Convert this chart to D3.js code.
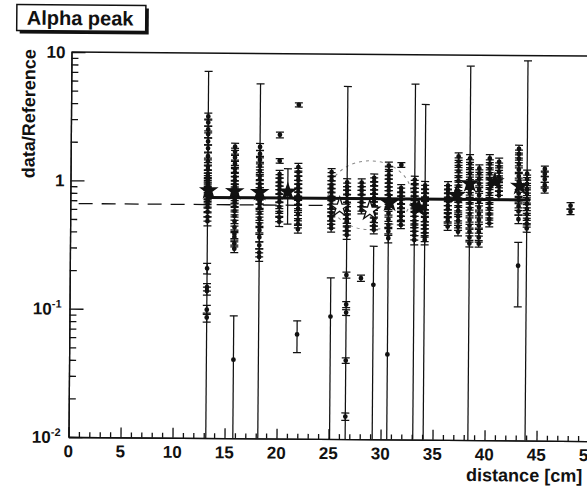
<!DOCTYPE html>
<html>
<head>
<meta charset="utf-8">
<title>Alpha peak</title>
<script src="https://cdnjs.cloudflare.com/ajax/libs/d3/7.8.5/d3.min.js"></script>
<style>
  html, body { margin: 0; padding: 0; background: #fff; }
  svg { display: block; }
  text { font-family: "Liberation Sans", Arial, Helvetica, sans-serif; font-weight: bold; fill: #111; }
</style>
</head>
<body>
<div id="chart"></div>
<script>
"use strict";

// ---- values ----
var title = "Alpha peak";
var xLabel = "distance [cm]";
var yLabel = "data/Reference";

var xTickValues = [0, 5, 10, 15, 20, 25, 30, 35, 40, 45, 50];
var yTickValues = [0.01, 0.1, 1, 10];
var yTickBase = ["10", "10", "1", "10"];
var yTickExp = ["-2", "-1", "", ""];

// one column of points per distance
var clusterX = [13.2, 15.8, 18.2, 20.1, 20.9, 21.9, 25.1, 26.6, 28.0, 29.2, 30.6, 31.8,
  33.1, 34.1, 36.3, 37.3, 38.4, 39.3, 40.3, 41.2, 43.1, 43.9, 45.6, 48.1];

var clusterY = [
  [3.21, 2.88, 2.54, 2.33, 2.05, 1.81, 1.57, 1.43, 1.31, 1.24, 1.15, 1.09, 1.04, 0.98, 0.93, 0.88, 0.84, 0.79, 0.75, 0.71, 0.67, 0.63, 0.58, 0.53, 0.49, 0.21, 0.15, 0.14, 0.10, 0.087, 0.80],
  [1.87, 1.71, 1.54, 1.38, 1.26, 1.18, 1.09, 1.02, 0.95, 0.90, 0.85, 0.81, 0.76, 0.72, 0.69, 0.64, 0.59, 0.54, 0.49, 0.44, 0.39, 0.37, 0.33, 0.30, 0.041],
  [1.87, 1.65, 1.48, 1.33, 1.22, 1.11, 1.04, 0.96, 0.90, 0.84, 0.78, 0.72, 0.67, 0.63, 0.57, 0.52, 0.47, 0.42, 0.37, 0.32, 0.28, 0.26, 0.70],
  [2.33, 1.46, 1.15, 1.07, 1.0, 0.93, 0.87, 0.81, 0.75, 0.70, 0.64, 0.58, 0.53, 0.49],
  [0.87],
  [4.0, 1.31, 1.20, 1.11, 1.04, 0.96, 0.90, 0.84, 0.78, 0.72, 0.67, 0.62, 0.56, 0.51, 0.47, 0.43, 0.065],
  [1.20, 1.11, 1.04, 0.96, 0.90, 0.84, 0.78, 0.72, 0.67, 0.63, 0.58, 0.54, 0.51, 0.47, 0.44, 0.09],
  [1.0, 0.93, 0.87, 0.81, 0.75, 0.70, 0.65, 0.61, 0.56, 0.52, 0.49, 0.45, 0.42, 0.39, 0.19, 0.112, 0.097, 0.041, 0.015, 0.50],
  [1.0, 0.93, 0.87, 0.81, 0.75, 0.70, 0.65, 0.61, 0.18],
  [1.09, 1.02, 0.95, 0.88, 0.82, 0.76, 0.71, 0.66, 0.62, 0.57, 0.53, 0.50, 0.46, 0.43, 0.16],
  [1.36, 1.24, 1.15, 1.07, 1.0, 0.93, 0.87, 0.81, 0.75, 0.70, 0.64, 0.58, 0.52, 0.47, 0.42, 0.37, 0.046],
  [1.38, 0.91, 0.85, 0.79, 0.74, 0.69, 0.64, 0.59, 0.55, 0.51, 0.47],
  [1.06, 0.98, 0.91, 0.85, 0.79, 0.74, 0.69, 0.64, 0.59, 0.55, 0.51, 0.48, 0.45, 0.42, 0.39, 0.36, 0.60],
  [0.96, 0.90, 0.84, 0.78, 0.72, 0.67, 0.63, 0.58, 0.54, 0.51, 0.47, 0.44, 0.41, 0.38, 0.36, 0.70],
  [0.96, 0.90, 0.84, 0.78, 0.72, 0.67, 0.63, 0.58, 0.54, 0.51, 0.46],
  [1.62, 1.48, 1.36, 1.24, 1.13, 1.04, 0.95, 0.87, 0.79, 0.72, 0.66, 0.61, 0.55, 0.51, 0.46, 0.42],
  [1.57, 1.43, 1.31, 1.20, 1.09, 1.0, 0.91, 0.84, 0.76, 0.70, 0.64, 0.58, 0.52, 0.47, 0.42, 0.38, 0.34, 0.90],
  [1.31, 1.20, 1.09, 1.0, 0.90, 0.81, 0.72, 0.65, 0.58, 0.52, 0.47, 0.42, 0.38, 0.34],
  [1.57, 1.43, 1.31, 1.20, 1.09, 1.0, 0.91, 0.84, 0.76, 0.70, 0.64, 0.58, 0.53, 0.49],
  [1.48, 1.36, 1.24, 1.13, 1.04, 0.95, 0.87, 0.81],
  [1.87, 1.71, 1.57, 1.43, 1.29, 1.15, 1.04, 0.93, 0.84, 0.75, 0.67, 0.61, 0.53, 0.23],
  [1.20, 1.09, 1.0, 0.91, 0.84, 0.76, 0.70, 0.64, 0.58, 0.53, 0.49, 0.45, 0.90],
  [1.31, 1.20, 1.09, 0.98, 0.90],
  [0.68, 0.61]
];

var clusterErr = [
  [0.20, 0.18, 0.15, 0.14, 0.13, 0.12, 0.10, 0.09, 0.09, 0.08, 0.08, 0.07, 0.07, 0.07, 0.06, 0.06, 0.06, 0.06, 0.05, 0.05, 0.05, 0.05, 0.05, 0.04, 0.04, 0.02, 0.01, 0.01, 0.008, 0.007, 6.4],
  [0.12, 0.11, 0.10, 0.09, 0.08, 0.08, 0.07, 0.07, 0.06, 0.06, 0.06, 0.05, 0.05, 0.05, 0.05, 0.04, 0.04, 0.04, 0.04, 0.03, 0.03, 0.03, 0.02, 0.02, 0.049],
  [0.12, 0.11, 0.10, 0.09, 0.08, 0.07, 0.07, 0.06, 0.06, 0.06, 0.05, 0.05, 0.05, 0.04, 0.04, 0.04, 0.03, 0.03, 0.03, 0.02, 0.02, 0.02, 5.1],
  [0.12, 0.06, 0.08, 0.07, 0.07, 0.06, 0.06, 0.06, 0.05, 0.05, 0.05, 0.04, 0.04, 0.04],
  [0.40],
  [0.15, 0.09, 0.08, 0.08, 0.07, 0.07, 0.06, 0.06, 0.05, 0.05, 0.05, 0.04, 0.04, 0.04, 0.03, 0.03, 0.018],
  [0.08, 0.08, 0.07, 0.07, 0.06, 0.06, 0.05, 0.05, 0.05, 0.04, 0.04, 0.04, 0.04, 0.03, 0.03, 0.09],
  [0.07, 0.06, 0.06, 0.06, 0.05, 0.05, 0.05, 0.04, 0.04, 0.04, 0.03, 0.03, 0.03, 0.03, 0.01, 0.006, 0.005, 0.002, 0.001, 5.1],
  [0.07, 0.06, 0.06, 0.06, 0.05, 0.05, 0.05, 0.04, 0.01],
  [0.08, 0.07, 0.07, 0.06, 0.06, 0.05, 0.05, 0.05, 0.04, 0.04, 0.04, 0.04, 0.03, 0.03, 0.16],
  [0.09, 0.09, 0.08, 0.07, 0.07, 0.06, 0.06, 0.06, 0.05, 0.05, 0.04, 0.04, 0.04, 0.03, 0.03, 0.03, 1.3],
  [0.06, 0.06, 0.06, 0.05, 0.05, 0.05, 0.04, 0.04, 0.04, 0.04, 0.03],
  [0.07, 0.07, 0.06, 0.06, 0.06, 0.05, 0.05, 0.04, 0.04, 0.04, 0.04, 0.03, 0.03, 0.03, 0.03, 0.03, 5.3],
  [0.07, 0.06, 0.06, 0.05, 0.05, 0.05, 0.04, 0.04, 0.04, 0.04, 0.03, 0.03, 0.03, 0.03, 0.03, 3.4],
  [0.07, 0.06, 0.06, 0.05, 0.05, 0.05, 0.04, 0.04, 0.04, 0.04, 0.03],
  [0.11, 0.10, 0.09, 0.09, 0.08, 0.07, 0.07, 0.06, 0.06, 0.05, 0.05, 0.04, 0.04, 0.04, 0.03, 0.03],
  [0.11, 0.10, 0.09, 0.08, 0.08, 0.07, 0.06, 0.06, 0.05, 0.05, 0.05, 0.04, 0.04, 0.03, 0.03, 0.03, 0.02, 7.3],
  [0.09, 0.08, 0.08, 0.07, 0.06, 0.06, 0.05, 0.05, 0.04, 0.04, 0.03, 0.03, 0.03, 0.02],
  [0.11, 0.10, 0.09, 0.08, 0.08, 0.07, 0.06, 0.06, 0.05, 0.05, 0.05, 0.04, 0.04, 0.03],
  [0.10, 0.09, 0.09, 0.08, 0.07, 0.07, 0.06, 0.06],
  [0.13, 0.12, 0.11, 0.10, 0.09, 0.08, 0.07, 0.07, 0.06, 0.05, 0.05, 0.04, 0.04, 0.12],
  [0.08, 0.08, 0.07, 0.06, 0.06, 0.05, 0.05, 0.05, 0.04, 0.04, 0.03, 0.03, 8.2],
  [0.07, 0.06, 0.06, 0.05, 0.05],
  [0.04, 0.03]
];

// averages per distance (filled and open stars)
var starX = [13.3, 15.8, 18.2, 20.9, 30.7, 33.5, 37.1, 38.4, 40.8, 43.2];
var starY = [0.85, 0.84, 0.83, 0.84, 0.70, 0.64, 0.81, 1.0, 1.04, 0.96];
var openX = [25.9, 28.8];
var openY = [0.64, 0.61];

// fitted level, reference level and the hand-drawn ellipse
var fitX = [13.2, 44.2];
var fitY = 0.75;
var refX = [0.8, 25.5];
var refY = 0.66;
var ellipseX = [24.8, 32.8];
var ellipseY = [0.43, 1.48];

var AlphaPlot = (function () {

  var width = 587;
  var height = 487;

  function drawAxes(g, x, y) {
    // minor ticks, generated per decade / per unit
    var yMinor = [];
    [0.01, 0.1, 1].forEach(function (d) {
      for (var k = 2; k < 10; k++) yMinor.push(d * k);
    });
    var xMinor = d3.range(0, 51).filter(function (d) { return d % 5 !== 0; });

    g.append("g")
      .attr("class", "y axis")
      .attr("transform", "translate(" + x.range()[0] + ",0)")
      .call(d3.axisRight(y).tickValues(yMinor).tickSize(7).tickSizeOuter(0).tickFormat(""));
    g.append("g")
      .attr("class", "y axis")
      .attr("transform", "translate(" + x.range()[0] + ",0)")
      .call(d3.axisRight(y).tickValues(yTickValues).tickSize(14).tickSizeOuter(0).tickFormat(""));

    g.append("g")
      .attr("class", "x axis")
      .attr("transform", "translate(0," + y.range()[0] + ")")
      .call(d3.axisTop(x).tickValues(xMinor).tickSize(5).tickSizeOuter(0).tickFormat(""));
    g.append("g")
      .attr("class", "x axis")
      .attr("transform", "translate(0," + y.range()[0] + ")")
      .call(d3.axisTop(x).tickValues(xTickValues).tickSize(10).tickSizeOuter(0).tickFormat(""));

    g.selectAll(".axis path, .axis line")
      .attr("stroke", "#111")
      .attr("stroke-width", 1.3);

    // frame top line
    g.append("line")
      .attr("x1", x.range()[0]).attr("x2", x.range()[1])
      .attr("y1", y.range()[1]).attr("y2", y.range()[1])
      .attr("stroke", "#111").attr("stroke-width", 1.5);

    // tick labels
    g.selectAll(".xlab")
      .data(xTickValues)
      .enter()
      .append("text")
      .attr("class", "xlab")
      .attr("x", function (d) { return x(d); })
      .attr("y", y.range()[0] + 20)
      .attr("text-anchor", "middle")
      .style("font-size", "17px")
      .text(function (d) { return d; });

    var ylab = g.selectAll(".ylab")
      .data(yTickValues)
      .enter()
      .append("text")
      .attr("class", "ylab")
      .attr("x", function (d, i) { return yTickExp[i] ? 62 : 64; })
      .attr("y", function (d) { return y(d) + 6; })
      .attr("text-anchor", "end")
      .style("font-size", "17px");
    ylab.append("tspan").text(function (d, i) { return yTickBase[i]; });
    ylab.append("tspan")
      .attr("dy", -7)
      .style("font-size", "11px")
      .text(function (d, i) { return yTickExp[i]; });

    // axis titles
    g.append("text")
      .attr("transform", "translate(34,114) rotate(-90)")
      .attr("text-anchor", "middle")
      .style("font-size", "18px")
      .text(yLabel);
    g.append("text")
      .attr("x", 584)
      .attr("y", 478)
      .attr("text-anchor", "end")
      .style("font-size", "18px")
      .text(xLabel);
  }

  function drawTitle(g) {
    var bx = 15, by = 5, bw = 129, bh = 26;
    g.append("rect")
      .attr("x", bx + 3).attr("y", by + 3)
      .attr("width", bw).attr("height", bh)
      .attr("fill", "#111");
    g.append("rect")
      .attr("x", bx).attr("y", by)
      .attr("width", bw).attr("height", bh)
      .attr("fill", "#fff")
      .attr("stroke", "#111")
      .attr("stroke-width", 1.5);
    g.append("text")
      .attr("x", bx + 10)
      .attr("y", by + 20)
      .style("font-size", "20px")
      .text(title);
  }

  function drawPoints(g, x, y) {
    var yMin = y.domain()[0];
    var yMax = y.domain()[1];
    var cap = 4;
    var points = [];
    for (var i = 0; i < clusterX.length; i++) {
      for (var j = 0; j < clusterY[i].length; j++) {
        points.push({ x: clusterX[i], y: clusterY[i][j], e: clusterErr[i][j] });
      }
    }

    var bar = g.selectAll(".bar")
      .data(points)
      .enter()
      .append("g")
      .attr("class", "bar")
      .attr("stroke", "#111")
      .attr("stroke-width", 1.25);

    bar.each(function (d) {
      var node = d3.select(this);
      var px = x(d.x);
      var hi = Math.min(d.y + d.e, yMax);
      var lo = d.y - d.e;
      var loClipped = lo <= yMin;
      if (loClipped) lo = yMin;
      node.append("line")
        .attr("x1", px).attr("x2", px)
        .attr("y1", y(hi)).attr("y2", y(lo));
      node.append("line")
        .attr("x1", px - cap).attr("x2", px + cap)
        .attr("y1", y(hi)).attr("y2", y(hi));
      if (!loClipped) {
        node.append("line")
          .attr("x1", px - cap).attr("x2", px + cap)
          .attr("y1", y(lo)).attr("y2", y(lo));
      }
      if (d.y >= yMin) {
        node.append("circle")
          .attr("cx", px).attr("cy", y(d.y))
          .attr("r", 2.4)
          .attr("fill", "#111")
          .attr("stroke", "none");
      }
    });
  }

  function drawLines(g, x, y) {
    g.append("line")
      .attr("x1", x(refX[0])).attr("x2", x(refX[1]))
      .attr("y1", y(refY)).attr("y2", y(refY))
      .attr("stroke", "#111")
      .attr("stroke-width", 1.3)
      .attr("stroke-dasharray", "14,9");

    g.append("ellipse")
      .attr("cx", (x(ellipseX[0]) + x(ellipseX[1])) / 2)
      .attr("cy", (y(ellipseY[0]) + y(ellipseY[1])) / 2)
      .attr("rx", (x(ellipseX[1]) - x(ellipseX[0])) / 2)
      .attr("ry", (y(ellipseY[0]) - y(ellipseY[1])) / 2)
      .attr("fill", "none")
      .attr("stroke", "#888")
      .attr("stroke-width", 1)
      .attr("stroke-dasharray", "3,4");
  }

  function drawFit(g, x, y) {
    g.append("line")
      .attr("x1", x(fitX[0])).attr("x2", x(fitX[1]))
      .attr("y1", y(fitY)).attr("y2", y(fitY))
      .attr("stroke", "#111")
      .attr("stroke-width", 3);

    var star = d3.symbol().type(d3.symbolStar).size(120);
    g.selectAll(".star")
      .data(starX)
      .enter()
      .append("path")
      .attr("class", "star")
      .attr("d", star)
      .attr("transform", function (d, i) { return "translate(" + x(d) + "," + y(starY[i]) + ")"; })
      .attr("fill", "#111");

    g.selectAll(".open-star")
      .data(openX)
      .enter()
      .append("path")
      .attr("class", "open-star")
      .attr("d", star)
      .attr("transform", function (d, i) { return "translate(" + x(d) + "," + y(openY[i]) + ")"; })
      .attr("fill", "#fff")
      .attr("stroke", "#111")
      .attr("stroke-width", 1.3);
  }

  function init(root) {
    var svg = d3.select(root).append("svg")
      .attr("width", width)
      .attr("height", height);

    var x = d3.scaleLinear().domain([0, 50]).range([70, 590]);
    var y = d3.scaleLog().domain([0.01, 10]).range([437, 52]);

    // the scan is tilted a little clockwise
    var g = svg.append("g").attr("transform", "rotate(0.45,70,245)");

    g.append("defs").append("clipPath")
      .attr("id", "plot-clip")
      .append("rect")
      .attr("x", 70).attr("y", 52)
      .attr("width", 520).attr("height", 385);

    var plot = g.append("g").attr("clip-path", "url(#plot-clip)");
    drawLines(plot, x, y);
    drawPoints(plot, x, y);
    drawFit(plot, x, y);
    drawAxes(g, x, y);
    drawTitle(g);
  }

  return {
    init: init,
  };
})();

AlphaPlot.init(document.getElementById("chart"));
</script>
</body>
</html>
